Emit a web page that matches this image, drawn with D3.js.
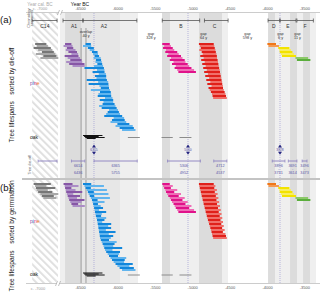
<!DOCTYPE html>
<html>
<head>
<meta charset="utf-8">
<script src="https://cdn.jsdelivr.net/npm/d3@7"></script>
<style>
body{margin:0;background:#fff}
svg{display:block;font-family:"Liberation Sans",Arial,sans-serif}
</style>
</head>
<body>
<div id="chart"></div>
<script>
// tree lifespans as [germination, die-off], years BC written as negative numbers
const c14Trees = [[-7120,-6890],[-7100,-6950],[-7090,-6830],[-7080,-6930],[-7060,-6870],[-7030,-6790],[-7010,-6850],[-6990,-6815]];
const a1Trees = [[-6720,-6600],[-6705,-6520],[-6700,-6615],[-6690,-6560],[-6685,-6470],[-6675,-6590],[-6665,-6500],[-6655,-6540],[-6645,-6440],[-6630,-6480],[-6615,-6525],[-6600,-6436]];
const a2Trees = [[-6460,-6350],[-6440,-6180],[-6425,-6355],[-6410,-6140],[-6395,-6315],[-6385,-6120],[-6370,-6310],[-6355,-6100],[-6340,-6265],[-6332,-6172],[-6325,-6260],[-6318,-6223],[-6312,-6192],[-6305,-6245],[-6300,-6150],[-6294,-6209],[-6288,-6218],[-6280,-6150],[-6273,-6173],[-6268,-6203],[-6263,-6083],[-6258,-6123],[-6254,-6084],[-6249,-6154],[-6245,-6025],[-6240,-6115],[-6236,-6056],[-6233,-6088],[-6222,-6112],[-6210,-6010],[-6198,-6038],[-6186,-6056],[-6176,-5936],[-6166,-6066],[-6150,-5965],[-6130,-5980],[-6112,-5992],[-6092,-5882],[-6072,-5902],[-6050,-5910],[-6025,-5795],[-6000,-5840],[-5970,-5780],[-5938,-5758]];
const bTrees = [[-5400,-5300],[-5390,-5260],[-5375,-5285],[-5360,-5200],[-5350,-5240],[-5335,-5150],[-5320,-5180],[-5300,-5100],[-5285,-5130],[-5270,-5060],[-5250,-5090],[-5235,-5010],[-5220,-5040],[-5200,-4975],[-5185,-4950]];
const cTrees = [[-4910,-4712],[-4905,-4690],[-4898,-4705],[-4892,-4670],[-4885,-4698],[-4880,-4660],[-4873,-4684],[-4866,-4650],[-4860,-4676],[-4853,-4640],[-4847,-4668],[-4840,-4628],[-4833,-4655],[-4826,-4618],[-4820,-4645],[-4812,-4608],[-4805,-4632],[-4798,-4598],[-4790,-4622],[-4782,-4588],[-4774,-4612],[-4766,-4578],[-4758,-4600],[-4750,-4566],[-4742,-4590],[-4735,-4555],[-4728,-4548],[-4720,-4537]];
const dTrees = [[-3995,-3880],[-3980,-3840]];
const eTrees = [[-3850,-3700],[-3835,-3680],[-3830,-3660],[-3815,-3640],[-3800,-3612]];
const fTrees = [[-3620,-3450],[-3600,-3420]];
const oakBlack = [[-6460,-6200],[-6445,-6250],[-6430,-6170],[-6410,-6290]];
const oakGray = [[-5860,-5700],[-5410,-5260],[-5170,-5010]];

// chronology segments, gaps, die-off intervals
const segNames = ["C14","A1","A2","B","C","D","E","F"];
const segStart = [-7140,-6727,-6460,-5400,-4836,-3986,-3824,-3600];
const segEnd   = [-6807,-6460,-5740,-4900,-4520,-3830,-3612,-3380];
const segLabelAt = [-6970,-6580,-6180,-5150,-4700,-3910,-3720,-3490];
const gapTop = ["overlap","gap","gap","gap","gap","gap"];
const gapBottom = ["40 y","328 y","64 y","598 y","6 y","11 y"];
const gapAt = [-6420,-5551,-4849,-4261,-3819,-3592];
const dieStart = [-7060,-6614,-6313,-5330,-4712,-3930,-3715,-3530];
const dieEnd   = [-6807,-6436,-5735,-4890,-4537,-3760,-3600,-3465];
const dieFrom = ["","6614","6365","5306","4712","3896","3691","3496"];
const dieTo   = ["","6436","5755","4952","4537","3731","3614","3473"];
const markerYears = [-6313,-5056,-3826];
const markerLabels = ["6315","5060","3828"];
const overlapLines = [-6485,-6420];
const tickYears = [-6500,-6000,-5500,-5000,-4500,-4000,-3500];
// background shading: [from, to, shade]
const bands = [[-6767,-6700,0],[-6700,-6487,1],[-6487,-5965,2],[-5965,-5725,0],[-5404,-5297,1],[-5297,-4896,0],[-4909,-4601,1],[-4601,-4521,0],[-3986,-3893,1],[-3893,-3692,0],[-3692,-3599,1],[-3599,-3518,0],[-3518,-3425,1],[-3425,-3345,0]];

const shades = ["#efefef","#dcdcdc","#e7e7e7"];
const stacks = [
  [{trees:c14Trees, color:"#777", light:"#a8a8a8"}],
  [{trees:a1Trees, color:"#8757a6", light:"#ab8cc6"}],
  [{trees:a2Trees, color:"#1287dc", light:"#62b5ee"}],
  [{trees:bTrees, color:"#e0128a", light:"#ef6db6"}],
  [{trees:cTrees, color:"#e0201a", light:"#f0706a"}],
  [{trees:dTrees, color:"#f0771a", light:"#f59a50"},
   {trees:eTrees, color:"#f3e300", light:"#f8ee60"},
   {trees:fTrees, color:"#5aae3c", light:"#8cc86a"}]
];

const width = 320, height = 292, rowH = 2;
const x = d3.scaleLinear().domain([-6500,-3500]).range([80,304.4]);

const svg = d3.select("#chart").append("svg").attr("width",width).attr("height",height);
svg.append("defs").append("pattern").attr("id","hatch")
  .attr("patternUnits","userSpaceOnUse").attr("width",5).attr("height",5)
  .attr("patternTransform","rotate(-45)")
  .append("rect").attr("width",1.8).attr("height",5).attr("fill","#dedede");

const panels = [
  {top:13, bottom:178, lineTop:28, stackTop:43, oakTop:135.5, key:"d", pineY:85, label:"Tree lifespans\u2003sorted by die-off", labelY:95, tag:"(a)", tagY:23},
  {top:180, bottom:283, lineTop:180, stackTop:183, oakTop:273, key:"g", pineY:223, label:"Tree lifespans\u2003sorted by germination", labelY:236, tag:"(b)", tagY:191}
];

panels.forEach(p => {
  const g = svg.append("g");
  g.selectAll(null).data(bands).join("rect")
    .attr("x", d => x(d[0])).attr("width", d => x(d[1]) - x(d[0]))
    .attr("y", p.top).attr("height", p.bottom - p.top)
    .attr("fill", d => shades[d[2]]);
  g.append("rect").attr("x", x(-7140)).attr("width", x(-6794) - x(-7140))
    .attr("y", p.top).attr("height", p.bottom - p.top).attr("fill","url(#hatch)");

  g.selectAll(null).data(overlapLines).join("line")
    .attr("x1", d => x(d)).attr("x2", d => x(d))
    .attr("y1", p.lineTop).attr("y2", p.bottom)
    .attr("stroke","#8a8a8a").attr("stroke-width",0.8);
  g.selectAll(null).data(markerYears).join("line")
    .attr("x1", d => x(d)).attr("x2", d => x(d))
    .attr("y1", p.top).attr("y2", p.bottom)
    .attr("stroke","#9d9bd2").attr("stroke-width",0.7).attr("stroke-dasharray","1,1");

  // tree lifespans, one stack per chronology
  stacks.forEach(stack => {
    const rows = stack.flatMap(s => s.trees.map(t => ({g:t[0], d:t[1], s:s})));
    rows.sort((a,b) => a[p.key] - b[p.key]);
    g.selectAll(null).data(rows).join("line")
      .attr("x1", r => x(r.g)).attr("x2", r => x(r.d))
      .attr("y1", (r,i) => p.stackTop + i*rowH + 1)
      .attr("y2", (r,i) => p.stackTop + i*rowH + 1)
      .attr("stroke", (r,i) => i % 2 ? r.s.light : r.s.color)
      .attr("stroke-width", rowH);
  });

  g.selectAll(null).data(oakGray).join("line")
    .attr("x1", d => x(d[0])).attr("x2", d => x(d[1]))
    .attr("y1", p.oakTop + 2).attr("y2", p.oakTop + 2)
    .attr("stroke","#8c8c8c").attr("stroke-width",1);
  g.selectAll(null).data(oakBlack).join("line")
    .attr("x1", d => x(d[0])).attr("x2", d => x(d[1]))
    .attr("y1", (d,i) => p.oakTop + i).attr("y2", (d,i) => p.oakTop + i)
    .attr("stroke","#111").attr("stroke-width",1);

  const pine = g.append("text").attr("x",30).attr("y",p.pineY).attr("font-size",5);
  [["p","#8757a6"],["i","#1287dc"],["n","#e0128a"],["e","#f0771a"]].forEach(c =>
    pine.append("tspan").attr("fill",c[1]).text(c[0]));
  g.append("text").attr("x",30).attr("y",p.oakTop + 3).attr("font-size",5).attr("fill","#222").text("oak");

  g.append("text").attr("transform",`translate(14,${p.labelY}) rotate(-90)`)
    .attr("text-anchor","middle").attr("font-size",6.6).attr("fill","#222").text(p.label);
  g.append("text").attr("x",0).attr("y",p.tagY).attr("font-size",9.5).attr("fill","#111").text(p.tag);
});

// frame lines
svg.append("line").attr("x1",26).attr("x2",width).attr("y1",12.5).attr("y2",12.5).attr("stroke","#aaa").attr("stroke-width",0.6);
svg.append("line").attr("x1",22).attr("x2",width).attr("y1",179).attr("y2",179).attr("stroke","#888").attr("stroke-width",1);
svg.append("line").attr("x1",26).attr("x2",width).attr("y1",283.5).attr("y2",283.5).attr("stroke","#aaa").attr("stroke-width",0.6);
[[60,12.5],[58,283.5]].forEach(b => {
  svg.append("rect").attr("x",b[0]-1.5).attr("y",b[1]-2.5).attr("width",3).attr("height",5).attr("fill","#fff");
  [-1.5,1.5].forEach(o => svg.append("line")
    .attr("x1",b[0]+o-1).attr("x2",b[0]+o+1).attr("y1",b[1]+2.5).attr("y2",b[1]-2.5)
    .attr("stroke","#999").attr("stroke-width",0.6));
});

// axes
const fmt = d => String(d);
svg.append("g").attr("transform","translate(0,12.5)")
  .call(d3.axisTop(x).tickValues(tickYears).tickSize(0).tickPadding(2.2).tickFormat(fmt))
  .call(a => a.select(".domain").remove())
  .call(a => a.selectAll("text").attr("font-size",4).attr("fill","#555").attr("font-family",null));
svg.append("g").attr("transform","translate(0,283.5)")
  .call(d3.axisBottom(x).tickValues(tickYears).tickSize(0).tickPadding(2.2).tickFormat(fmt))
  .call(a => a.select(".domain").remove())
  .call(a => a.selectAll("text").attr("font-size",4).attr("fill","#555").attr("font-family",null));
svg.append("text").attr("x",40).attr("y",10.3).attr("text-anchor","middle").attr("font-size",4).attr("fill","#999").text("c. -7000");
svg.append("text").attr("x",38).attr("y",289.5).attr("text-anchor","middle").attr("font-size",4).attr("fill","#999").text("c. -7000");
svg.append("text").attr("x",40).attr("y",5.5).attr("text-anchor","middle").attr("font-size",4.6).attr("fill","#aaa").text("Year cal. BC");
svg.append("text").attr("x",80).attr("y",5.5).attr("text-anchor","middle").attr("font-size",5).attr("fill","#111").text("Year BC");

// chronology segments row
svg.append("text").attr("transform","translate(29.5,18) rotate(-90)").attr("text-anchor","middle").attr("font-size",3.8).attr("fill","#555").text("Chronology");
svg.append("text").attr("transform","translate(33,18) rotate(-90)").attr("text-anchor","middle").attr("font-size",3.8).attr("fill","#555").text("segments");
const seg = svg.append("g");
seg.selectAll(null).data(segNames).join("line")
  .attr("x1",(d,i) => x(segStart[i])).attr("x2",(d,i) => x(segEnd[i]))
  .attr("y1",20.5).attr("y2",20.5).attr("stroke","#444").attr("stroke-width",0.7);
seg.selectAll(null).data(segStart.concat(segEnd)).join("line")
  .attr("x1",d => x(d)).attr("x2",d => x(d)).attr("y1",18.5).attr("y2",22.5)
  .attr("stroke","#444").attr("stroke-width",0.7);
seg.selectAll(null).data(segNames).join("text")
  .attr("x",(d,i) => x(segLabelAt[i])).attr("y",27.5).attr("text-anchor","middle")
  .attr("font-size",5).attr("fill","#333").text(d => d);
seg.selectAll(null).data(gapTop).join("text")
  .attr("x",(d,i) => x(gapAt[i])).attr("y",(d,i) => i ? 34.5 : 32.5).attr("text-anchor","middle")
  .attr("font-size",3.8).attr("fill","#333").text(d => d);
seg.selectAll(null).data(gapBottom).join("text")
  .attr("x",(d,i) => x(gapAt[i])).attr("y",(d,i) => i ? 38.8 : 36.8).attr("text-anchor","middle")
  .attr("font-size",3.8).attr("fill","#333").text(d => d);

// die-off markers and intervals
const die = svg.append("g");
die.append("text").attr("transform","translate(30.5,165) rotate(-90)").attr("text-anchor","middle").attr("font-size",3.8).attr("fill","#555").text("Tree die-off");
markerYears.forEach((m,i) => {
  const mx = x(m);
  die.append("path").attr("d",`M${mx-2},${147.5}L${mx+2},${147.5}L${mx},${144.5}Z`).attr("fill","#262680");
  die.append("path").attr("d",`M${mx-2},${151.8}L${mx+2},${151.8}L${mx},${154.8}Z`).attr("fill","#262680");
  die.append("text").attr("x",mx).attr("y",150.6).attr("text-anchor","middle").attr("font-size",3.3).attr("fill","#4a4aa0").text(markerLabels[i]);
});
die.selectAll(null).data(dieStart).join("line")
  .attr("x1",d => x(d)).attr("x2",(d,i) => x(dieEnd[i])).attr("y1",161).attr("y2",161)
  .attr("stroke","#8a7fc0").attr("stroke-width",0.9);
die.selectAll(null).data(dieStart.concat(dieEnd)).join("line")
  .attr("x1",d => x(d)).attr("x2",d => x(d)).attr("y1",159.5).attr("y2",162.5)
  .attr("stroke","#8a7fc0").attr("stroke-width",0.7);
dieFrom.forEach((f,i) => {
  if (!f) return;
  const cx = x((dieStart[i] + dieEnd[i]) / 2);
  die.append("text").attr("x",cx).attr("y",166.5).attr("text-anchor","middle").attr("font-size",3.8).attr("fill","#5a56a8").text(f);
  die.append("text").attr("x",cx).attr("y",170.2).attr("text-anchor","middle").attr("font-size",3.8).attr("fill","#5a56a8").text("-");
  die.append("text").attr("x",cx).attr("y",174.3).attr("text-anchor","middle").attr("font-size",3.8).attr("fill","#5a56a8").text(dieTo[i]);
});
</script>
</body>
</html>
